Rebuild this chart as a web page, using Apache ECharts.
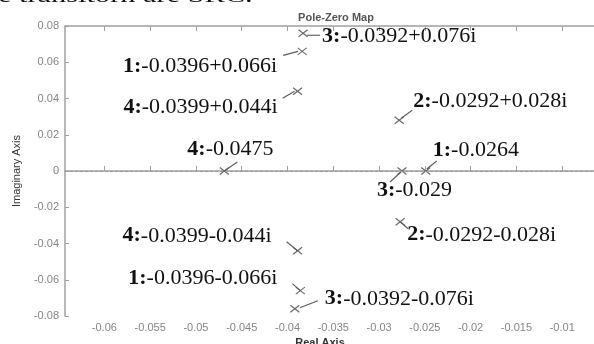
<!DOCTYPE html>
<html>
<head>
<meta charset="utf-8">
<script src="https://cdn.jsdelivr.net/npm/echarts@6/dist/echarts.min.js"></script>
<style>
html,body{margin:0;padding:0;background:#fff;}
#c{width:594px;height:344px;}
</style>
</head>
<body>
<div id="c"></div>
<script>
// ---- data ----
const poleIds = ['3:', '1:', '4:', '2:', '1:', '3:', '4:', '2:', '4:', '1:', '3:'];
const poleTexts = ['-0.0392+0.076i', '-0.0396+0.066i', '-0.0399+0.044i', '-0.0292+0.028i',
  '-0.0264', '-0.029', '-0.0475', '-0.0292-0.028i', '-0.0399-0.044i', '-0.0396-0.066i', '-0.0392-0.076i'];
const realParts = [-0.0383, -0.0384, -0.0389, -0.0278, -0.0249, -0.0275, -0.0469, -0.0277, -0.0389, -0.0386, -0.0392];
const imagParts = [0.076, 0.066, 0.044, 0.028, 0, 0, 0, -0.028, -0.044, -0.066, -0.076];
const xTicks = [-0.06, -0.055, -0.05, -0.045, -0.04, -0.035, -0.03, -0.025, -0.02, -0.015, -0.01];
const xTickLabels = ['-0.06', '-0.055', '-0.05', '-0.045', '-0.04', '-0.035', '-0.03', '-0.025', '-0.02', '-0.015', '-0.01'];
const yTicks = [-0.08, -0.06, -0.04, -0.02, 0, 0.02, 0.04, 0.06, 0.08];
const yTickLabels = ['-0.08', '-0.06', '-0.04', '-0.02', '0', '0.02', '0.04', '0.06', '0.08'];

// ---- annotation layout (style, pixel offsets from each marker) ----
const labelLayout = [
  {align: 'left',  dx: 19,  dy: 3,   line: [4, 2, 17, 2]},
  {align: 'right', dx: -25, dy: 15,  line: [-19, 4, -4, 0]},
  {align: 'right', dx: -20, dy: 16,  line: [-15, 7, -3, 0]},
  {align: 'left',  dx: 14,  dy: -19, line: [2, -2, 13, -10]},
  {align: 'left',  dx: 7,   dy: -21, line: [1, -2, 11, -10]},
  {align: 'left',  dx: -25, dy: 19,  line: [-1, 1, -12, 11]},
  {align: 'left',  dx: -37, dy: -22, line: [0, 0, 13, -9]},
  {align: 'left',  dx: 7,   dy: 13,  line: [0, 0, 8, 7]},
  {align: 'right', dx: -26, dy: -15, line: [-11, -9, 0, 0]},
  {align: 'right', dx: -23, dy: -12, line: [-8, -7, 0, 0]},
  {align: 'left',  dx: 30,  dy: -10, line: [5, -1, 23, -8]}
];

function lbl(values, labels) {
  return function (v) {
    let best = 0, bd = Infinity;
    values.forEach(function (t, i) { const d = Math.abs(t - v); if (d < bd) { bd = d; best = i; } });
    return bd < 1e-6 ? labels[best] : '';
  };
}

const chart = echarts.init(document.getElementById('c'), null, {renderer: 'canvas'});
const axisCol = '#a0a0a0';
const tickFont = {color: '#858585', fontSize: 11, fontFamily: 'Liberation Sans, Arial, sans-serif'};

chart.setOption({
  animation: false,
  backgroundColor: '#fff',
  title: {
    text: 'Pole-Zero Map', left: 331, top: 7, textAlign: 'center',
    textStyle: {fontSize: 11, fontWeight: 'bold', color: '#555', fontFamily: 'Liberation Sans, Arial, sans-serif'}
  },
  graphic: [{
    type: 'text', left: -2, top: -15, scaleX: 1.38, originX: 0,
    style: {text: 'e transitorn are SRC.', font: '22px "Liberation Serif"', fill: '#111'}
  }],
  grid: {left: 65, top: 26, width: 543, height: 290, containLabel: false, outerBoundsMode: 'none'},
  xAxis: [{
    type: 'value', min: -0.0643, max: -0.005, position: 'bottom',
    name: 'Real Axis', nameLocation: 'middle', nameGap: 21,
    nameTextStyle: {fontSize: 11, color: '#333', fontWeight: 'bold', fontFamily: 'Liberation Sans, Arial, sans-serif', padding: [0, 33, 0, 0]},
    axisLine: {show: true, lineStyle: {color: axisCol, width: 1.5}},
    axisTick: {show: true, inside: true, length: 5, customValues: xTicks, lineStyle: {color: axisCol}},
    axisLabel: Object.assign({customValues: xTicks, margin: 6, formatter: lbl(xTicks, xTickLabels)}, tickFont),
    splitLine: {show: false}
  }, {
    type: 'value', min: -0.0643, max: -0.005, position: 'top',
    axisLine: {show: true, lineStyle: {color: axisCol, width: 1.5}},
    axisTick: {show: true, inside: true, length: 5, customValues: xTicks, lineStyle: {color: axisCol}},
    axisLabel: {show: false},
    splitLine: {show: false}
  }],
  yAxis: [{
    type: 'value', min: -0.08, max: 0.08, interval: 0.02,
    name: 'Imaginary Axis', nameLocation: 'middle', nameGap: 43, nameRotate: 90,
    nameTextStyle: {fontSize: 11, color: '#333', fontFamily: 'Liberation Sans, Arial, sans-serif'},
    axisLine: {show: true, lineStyle: {color: axisCol, width: 1.5}},
    axisTick: {show: true, inside: true, length: 4, lineStyle: {color: axisCol}},
    axisLabel: Object.assign({margin: 6, formatter: lbl(yTicks, yTickLabels)}, tickFont),
    splitLine: {show: false}
  }],
  series: [{
    type: 'custom',
    xAxisIndex: 0, yAxisIndex: 0,
    clip: false,
    data: realParts.map(function (r, i) { return [r, imagParts[i]]; }),
    renderItem: function (params, api) {
      const i = params.dataIndex;
      const p = api.coord([api.value(0), api.value(1)]);
      const L = labelLayout[i];
      const sx = 4.5, sy = 3.5;
      const mk = {stroke: '#6a6a6a', lineWidth: 1.2};
      return {
        type: 'group',
        children: [
          {type: 'line', shape: {x1: p[0] - sx, y1: p[1] - sy, x2: p[0] + sx, y2: p[1] + sy}, style: mk},
          {type: 'line', shape: {x1: p[0] - sx, y1: p[1] + sy, x2: p[0] + sx, y2: p[1] - sy}, style: mk},
          {type: 'line', shape: {x1: p[0] + L.line[0], y1: p[1] + L.line[1], x2: p[0] + L.line[2], y2: p[1] + L.line[3]},
            style: {stroke: '#5a5a5a', lineWidth: 1.1}},
          {type: 'text', x: p[0] + L.dx, y: p[1] + L.dy,
            style: {
              text: '{b|' + poleIds[i] + '}{n|' + poleTexts[i] + '}',
              rich: {
                b: {font: 'bold 22px "Liberation Serif"', fill: '#111'},
                n: {font: '22px "Liberation Serif"', fill: '#111'}
              },
              font: '22px "Liberation Serif"', fill: '#111',
              align: L.align, verticalAlign: 'middle'
            }}
        ]
      };
    },
    markLine: {
      silent: true, symbol: 'none', animation: false,
      label: {show: false},
      lineStyle: {type: [3, 2], color: '#9a9a9a', width: 1},
      data: [{yAxis: 0}]
    }
  }]
});
</script>
</body>
</html>
